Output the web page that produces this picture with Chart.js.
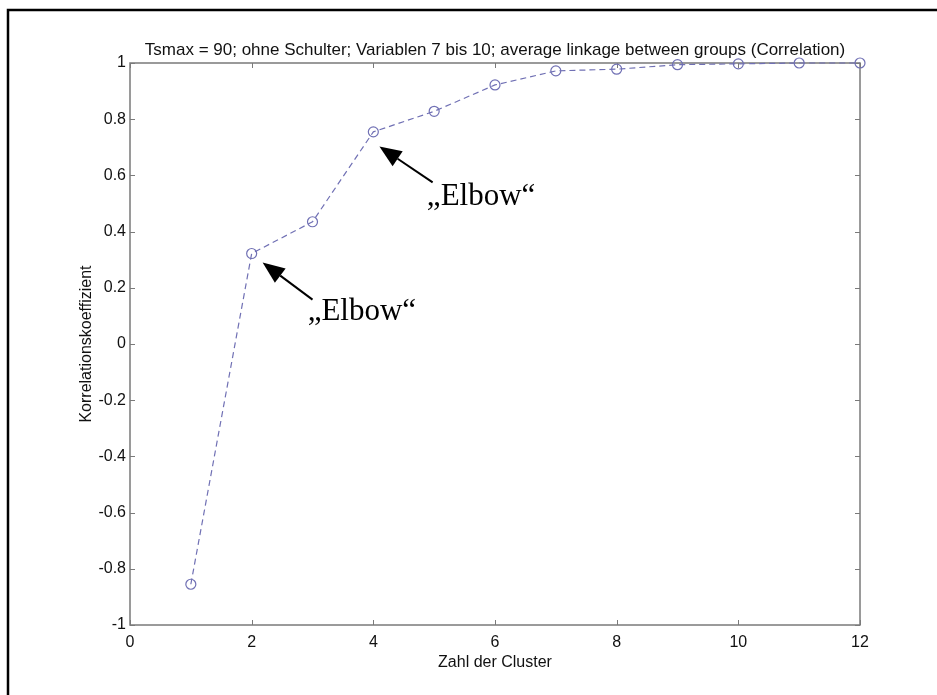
<!DOCTYPE html>
<html>
<head>
<meta charset="utf-8">
<script src="https://cdn.jsdelivr.net/npm/chart.js@4.4.1/dist/chart.umd.min.js"></script>
<style>
html,body{margin:0;padding:0;background:#fff;}
canvas{display:block;}
</style>
</head>
<body>
<canvas id="c" width="937" height="695"></canvas>
<script>
// ---- data ----
const clusters = [1, 2, 3, 4, 5, 6, 7, 8, 9, 10, 11, 12];
const correlation = [-0.855, 0.322, 0.435, 0.755, 0.828, 0.922, 0.972, 0.978, 0.994, 0.997, 1.0, 1.0];
const xTickValues = [0, 2, 4, 6, 8, 10, 12];
const yTickValues = [-1, -0.8, -0.6, -0.4, -0.2, 0, 0.2, 0.4, 0.6, 0.8, 1];
const titleText = 'Tsmax = 90; ohne Schulter; Variablen 7 bis 10; average linkage between groups (Correlation)';
const xLabel = 'Zahl der Cluster';
const yLabel = 'Korrelationskoeffizient';
const elbowLabels = ['\u201EElbow\u201C', '\u201EElbow\u201C'];
// annotation anchors in data units: [x, y]
const elbowTips = [[4.10, 0.703], [2.18, 0.290]];
const elbowTails = [[4.975, 0.575], [3.00, 0.158]];
const elbowTextPos = [[4.88, 0.496], [2.92, 0.087]];

const axisColor = '#7a7a7a';
const sansFont = "'Liberation Sans', Arial, sans-serif";

const decor = {
  id: 'decor',
  beforeDraw(chart) {
    const ctx = chart.ctx;
    ctx.save();
    ctx.fillStyle = '#fff';
    ctx.fillRect(0, 0, chart.width, chart.height);
    ctx.strokeStyle = '#000';
    ctx.lineWidth = 2.5;
    ctx.beginPath();
    ctx.moveTo(8, chart.height);
    ctx.lineTo(8, 10);
    ctx.lineTo(chart.width, 10);
    ctx.stroke();
    ctx.restore();
  },
  beforeDatasetsDraw(chart) {
    const ctx = chart.ctx, a = chart.chartArea;
    const xs = chart.scales.x, ys = chart.scales.y;
    ctx.save();
    ctx.strokeStyle = axisColor;
    ctx.lineWidth = 1.5;
    ctx.strokeRect(a.left, a.top, a.right - a.left, a.bottom - a.top);
    ctx.lineWidth = 1;
    const tl = 5;
    ctx.beginPath();
    xTickValues.forEach(v => {
      const px = Math.round(xs.getPixelForValue(v)) + 0.5;
      ctx.moveTo(px, a.bottom); ctx.lineTo(px, a.bottom - tl);
      ctx.moveTo(px, a.top); ctx.lineTo(px, a.top + tl);
    });
    yTickValues.forEach(v => {
      const py = Math.round(ys.getPixelForValue(v)) + 0.5;
      ctx.moveTo(a.left, py); ctx.lineTo(a.left + tl, py);
      ctx.moveTo(a.right, py); ctx.lineTo(a.right - tl, py);
    });
    ctx.stroke();
    ctx.fillStyle = '#111';
    ctx.font = '17px ' + sansFont;
    ctx.textAlign = 'center';
    ctx.textBaseline = 'alphabetic';
    ctx.fillText(titleText, (a.left + a.right) / 2, 55);
    ctx.restore();
  },
  afterDatasetsDraw(chart) {
    const ctx = chart.ctx;
    const xs = chart.scales.x, ys = chart.scales.y;
    ctx.save();
    ctx.fillStyle = '#000';
    ctx.strokeStyle = '#000';
    for (let i = 0; i < elbowLabels.length; i++) {
      const tx = xs.getPixelForValue(elbowTips[i][0]), ty = ys.getPixelForValue(elbowTips[i][1]);
      const sx = xs.getPixelForValue(elbowTails[i][0]), sy = ys.getPixelForValue(elbowTails[i][1]);
      const ang = Math.atan2(ty - sy, tx - sx);
      const hl = 22, hw = 9;
      const bx = tx - hl * Math.cos(ang), by = ty - hl * Math.sin(ang);
      ctx.lineWidth = 2;
      ctx.beginPath();
      ctx.moveTo(sx, sy); ctx.lineTo(bx, by);
      ctx.stroke();
      ctx.beginPath();
      ctx.moveTo(tx, ty);
      ctx.lineTo(bx + hw * Math.sin(ang), by - hw * Math.cos(ang));
      ctx.lineTo(bx - hw * Math.sin(ang), by + hw * Math.cos(ang));
      ctx.closePath();
      ctx.fill();
      ctx.font = "31px 'Liberation Serif', 'Times New Roman', serif";
      ctx.textAlign = 'left';
      ctx.textBaseline = 'alphabetic';
      ctx.fillText(elbowLabels[i], xs.getPixelForValue(elbowTextPos[i][0]), ys.getPixelForValue(elbowTextPos[i][1]));
    }
    ctx.restore();
  }
};

new Chart(document.getElementById('c'), {
  type: 'line',
  data: {
    datasets: [{
      data: clusters.map((c, i) => ({ x: c, y: correlation[i] })),
      borderColor: '#7070b4',
      borderWidth: 1.2,
      borderDash: [6, 4],
      pointStyle: 'circle',
      pointRadius: 5,
      pointBorderWidth: 1.2,
      pointBorderColor: '#7070b4',
      pointBackgroundColor: 'rgba(0,0,0,0)',
      fill: false,
      tension: 0,
      clip: false
    }]
  },
  options: {
    responsive: false,
    animation: false,
    devicePixelRatio: 1,
    layout: { padding: { left: 0, right: 77, top: 63, bottom: 0 } },
    plugins: { legend: { display: false }, tooltip: { enabled: false }, title: { display: false } },
    scales: {
      x: {
        type: 'linear', min: 0, max: 12,
        afterBuildTicks: s => { s.ticks = xTickValues.map(v => ({ value: v })); },
        afterFit: s => { s.height = 70; },
        grid: { display: false, drawTicks: false },
        border: { display: false },
        ticks: { color: '#111', font: { family: sansFont, size: 16 }, padding: 8, maxRotation: 0 },
        title: { display: true, text: xLabel, color: '#111', font: { family: sansFont, size: 16 }, padding: { top: 0, bottom: 23 } }
      },
      y: {
        type: 'linear', min: -1, max: 1,
        afterBuildTicks: s => { s.ticks = yTickValues.map(v => ({ value: v })); },
        afterFit: s => { s.width = 130; },
        grid: { display: false, drawTicks: false },
        border: { display: false },
        ticks: { color: '#111', font: { family: sansFont, size: 16 }, padding: 4,
          callback: v => String(Math.round(v * 10) / 10) },
        title: { display: true, text: yLabel, color: '#111', font: { family: sansFont, size: 16 }, padding: { top: 77, bottom: 0 } }
      }
    }
  },
  plugins: [decor]
});
</script>
</body>
</html>
